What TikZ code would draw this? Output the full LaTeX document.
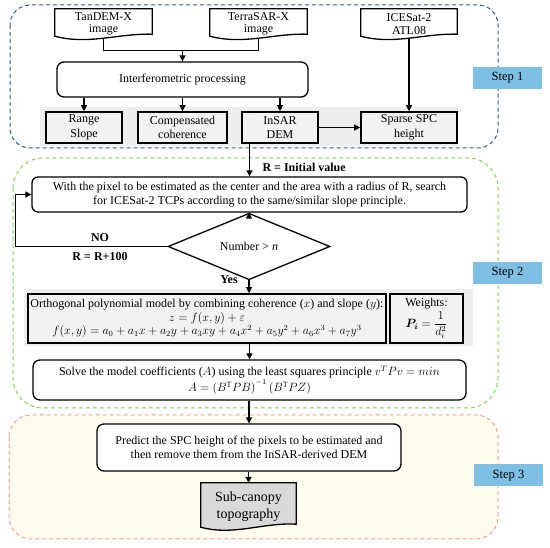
\documentclass[tikz,border=0pt]{standalone}
\usepackage{fontspec}
\setmainfont{Liberation Serif}
\usepackage{amsmath,bm}
\usetikzlibrary{arrows.meta,shapes.geometric,calc,backgrounds}

\definecolor{stepblue}{RGB}{125,192,228}
\definecolor{regblue}{RGB}{46,89,140}
\definecolor{reggreen}{RGB}{130,210,90}
\definecolor{regpink}{RGB}{240,160,155}
\definecolor{cream}{RGB}{255,252,238}
\definecolor{boxgray}{RGB}{242,242,242}
\definecolor{bandgray}{RGB}{238,238,238}
\definecolor{subgray}{RGB}{217,217,217}

\begin{document}
\begin{tikzpicture}[x=1pt,y=-1pt,
 font=\fontsize{12}{14.5}\selectfont,
 region/.style={dash pattern=on 4pt off 3pt, line width=1pt},
 sqbox/.style={draw, line width=1.6pt, fill=boxgray, align=center, inner sep=1pt},
 rbox/.style={draw, line width=1.3pt, rounded corners=7pt, fill=white, align=center, inner sep=1pt},
 docbox/.style={align=center, inner sep=0pt, font=\fontsize{12}{12.5}\selectfont},
 docline/.style={line width=1.3pt},
 conn/.style={line width=1.2pt},
 arr/.style={conn, -{Triangle[length=6pt,width=6pt]}},
 steplabel/.style={fill=stepblue, minimum width=69pt, minimum height=22pt, inner sep=0pt, font=\fontsize{12.5}{14}\selectfont},
 lbl/.style={font=\fontsize{12}{14}\selectfont\bfseries}
]
\useasboundingbox (0,0) rectangle (550,548);

% ---------- Step 1 ----------
\node[docbox, minimum width=97pt, minimum height=30pt] (tdx) at (103.5,24) {TanDEM-X\\image};
\node[docbox, minimum width=97pt, minimum height=30pt] (tsx) at (258.5,24) {TerraSAR-X\\image};
\node[docbox, minimum width=96pt, minimum height=30pt] (ice) at (409,24) {ICESat-2\\ATL08};

\node[rbox, minimum width=251pt, minimum height=35pt] (ip) at (182.5,79.5) {Interferometric processing};

\node[sqbox, minimum width=76pt, minimum height=31pt] (rs) at (84,127.5) {Range\\Slope};
\node[sqbox, minimum width=89pt, minimum height=31pt] (cc) at (182.5,127.5) {Compensated\\coherence};
\node[sqbox, minimum width=76pt, minimum height=31pt] (dem) at (280,127.5) {InSAR\\DEM};
\node[sqbox, minimum width=96pt, minimum height=31pt] (spc) at (409,127.5) {Sparse SPC\\height};

\node[steplabel] (s1) at (507.5,78) {Step 1};

% ---------- Step 2 ----------
\node[rbox, rounded corners=6pt, minimum width=435pt, minimum height=35pt] (search) at (249.5,194.5)
 {With the pixel to be estimated as the center and the area with a radius of R, search\\
  for ICESat-2 TCPs according to the same/similar slope principle.};
\node[lbl, anchor=west] (riv) at (259,167) {R = Initial value};

\node[draw, diamond, line width=1.3pt, minimum width=162pt, minimum height=45pt, inner sep=0pt, fill=white] (dia) at (249,246.5) {Number > \textit{n}};
\node[lbl] (no) at (100,238) {NO};
\node[lbl] (rr) at (100,257) {R = R+100};
\node[lbl] (yes) at (229,280) {Yes};

\node[sqbox, minimum width=358pt, minimum height=49pt, font=\fontsize{12}{13.5}\selectfont] (model) at (207,318.5)
 {Orthogonal polynomial model by combining coherence ($x$) and slope ($y$):\\
  $z=f(x,y)+\varepsilon$\\
  $f(x,y)=a_0+a_1x+a_2y+a_3xy+a_4x^2+a_5y^2+a_6x^3+a_7y^3$};
\node[sqbox, minimum width=73pt, minimum height=49pt, inner sep=0pt, font=\fontsize{12}{13}\selectfont] (wts) at (426.5,318.5)
 {Weights:\\[1pt] $\bm{P_i}=\dfrac{1}{d_i^2}$};

\node[rbox, minimum width=433pt, minimum height=40pt, font=\fontsize{12}{16}\selectfont] (solve) at (249.5,380)
 {Solve the model coefficients ($A$) using the least squares principle $v^TPv=min$\\
  $A=\left(B^{\mathrm{T}}PB\right)^{-1}\left(B^{\mathrm{T}}PZ\right)$};

\node[steplabel] (s2) at (507.5,273) {Step 2};

% ---------- Step 3 ----------
\node[rbox, minimum width=304pt, minimum height=47pt] (predict) at (249,447.5)
 {Predict the SPC height of the pixels to be estimated and\\
  then remove them from the InSAR-derived DEM};
\node[docbox, minimum width=95pt, minimum height=47pt, font=\fontsize{14}{17}\selectfont] (sub) at (248.5,506.5) {Sub-canopy\\topography};

\node[steplabel] (s3) at (508.5,475.5) {Step 3};

% ---------- background ----------
\begin{pgfonlayer}{background}
\draw[region, draw=regblue, rounded corners=20pt] (10,5) rectangle (498,148);
\draw[region, draw=reggreen, rounded corners=30pt] (13,158) rectangle (498,408);
\draw[region, draw=regpink, fill=cream, rounded corners=22pt] (9,415) rectangle (498,539);
\fill[bandgray] (40,107) rectangle (458,146);
\fill[bandgray] (24,289) rectangle (473,346);
\foreach \d in {tdx,tsx,ice}{
 \draw[docline, fill=white] (\d.north west) -- (\d.north east) -- ($(\d.south east)+(0,-5)$)
   .. controls ($(\d.south)+(15,-6)$) and ($(\d.south)+(-15,6)$) .. ($(\d.south west)+(0,-3)$) -- cycle;
}
\draw[docline, fill=subgray] (sub.north west) -- (sub.north east) -- ($(sub.south east)+(0,-6)$)
   .. controls ($(sub.south)+(15,-8)$) and ($(sub.south)+(-15,6)$) .. ($(sub.south west)+(0,-3)$) -- cycle;
\end{pgfonlayer}

% ---------- connectors ----------
\path (ip.north) ++(0,-11) coordinate (j);
\draw[conn] ($(tdx.south)+(0,-1)$) |- (j) -| ($(tsx.south)+(0,-1)$);
\draw[arr] (j) -- (ip.north);
\draw[arr] (rs.north |- ip.south) -- (rs.north);
\draw[arr] (cc.north |- ip.south) -- (cc.north);
\draw[arr] (dem.north |- ip.south) -- (dem.north);
\draw[arr] (dem.east) -- (spc.west);
\draw[arr] ($(ice.south)+(0,-1)$) -- (spc.north);
\draw[arr] (search.north |- dem.south) -- (search.north);
\draw[arr] (search.south -| dia.north) -- (dia.north);
\draw[arr] (dia.west) -- ++(-152,0) |- (search.west);
\draw[arr] (dia.south) -- (dia.south |- model.north);
\draw[arr] (solve.north |- model.south) -- (solve.north);
\draw[arr] (solve.south -| predict.north) -- (predict.north);
\draw[arr] (predict.south -| sub.north) -- (sub.north);
\end{tikzpicture}
\end{document}
